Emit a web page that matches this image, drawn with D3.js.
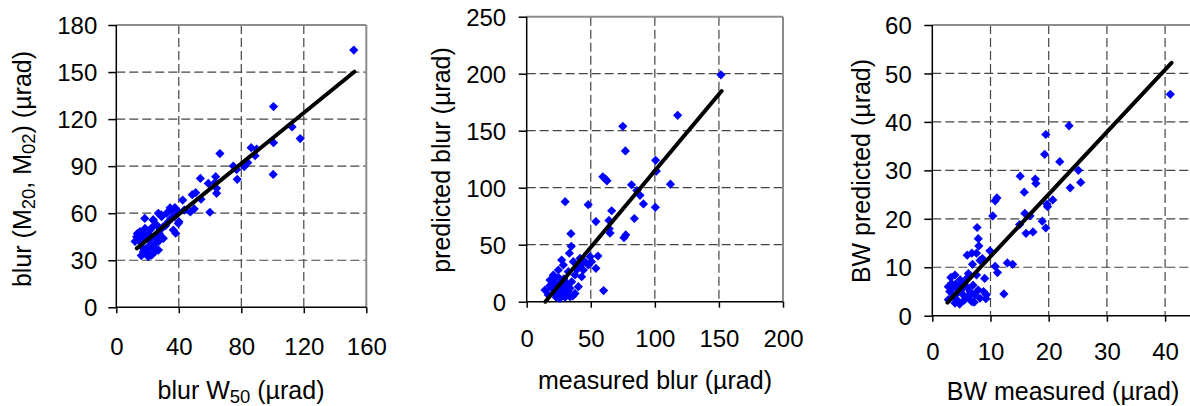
<!DOCTYPE html>
<html><head><meta charset="utf-8">
<script src="https://cdn.jsdelivr.net/npm/d3@7"></script>
<style>
html,body{margin:0;padding:0;background:#fff;}
svg{display:block;font-family:"Liberation Sans",Arial,sans-serif;}
</style></head>
<body>
<svg id="c" width="1190" height="406"></svg>
<script>
// ---------- Panel 1: blur W50 vs blur (M20, M02) ----------
const p1X = [152,100.6,100.6,100.4,112.5,117.7,86.3,89.8,88.8,84.1,81.9,74.9,77,77.4,66.3,53.8,
  63.6,63.2,64.2,64.2,58.9,59.9,54.2,50.8,48.6,47.4,49.9,42.5,39.7,40.1,38,35.4,35,32.2,28.8,23.5,18.2,
  43.5,37.5,39.7,37.1,34.4,33.3,29,26.9,25.8,23.7,28,30.1,21.6,18.4,15.2,13,12,15.2,16.2,17.3,20.5,22.6,
  24.7,26.9,19.4,21.6,24.7,26.9,30.1,18.4,22.6,36.5,25.8,26.7,14.1,31.5,20,16.5,23,27.5,
  14,17,19.5,21,24,13.5,16,20.5];
const p1Y = [164,128,105,84.7,115,107.6,101.8,100.9,96.7,92.2,89.7,90.1,87.8,81.6,98,82.2,
  83.3,79.5,75.9,72.7,79,60.6,68.9,73.1,71.8,60.8,62.7,68.4,61,54.6,47.2,62,56.7,60,58.9,55.7,56.7,
  62,63.5,53.5,57.8,63.4,54.6,57.8,59.9,52.5,55.7,49.3,51.4,49.3,50.3,48.2,45,42,41.8,38.6,35.4,32.3,33.3,
  35.4,36.5,37.6,39.7,40.8,41.8,43.9,43.9,45,49.3,44,36.6,47.2,52,46,47,51,47,
  44,46,35,43,38,47,33,37];
const p1Fit = [[13.1,37.6],[152.4,150.2]];
const p1XTicks = [0,40,80,120,160];
const p1YTicks = [0,30,60,90,120,150,180];

// ---------- Panel 2: measured blur vs predicted blur ----------
const p2X = [151.6,117.8,75,77,100.6,101.2,112.2,59.4,61.6,62.6,81.8,86,88.4,91.1,100.4,84,66.3,64.2,64.4,65,
  75.9,77.3,48,30,54,34.5,34.8,55.6,49.5,54,60,33.3,27.3,41.6,36.4,45.5,50.6,48.1,44.2,40.3,37.7,42.9,32.5,
  28.6,24.7,20.8,18.2,22.1,27.3,31.2,33.8,40.3,37.7,31.2,27.3,24.7,19.5,14.3,16.9,28.6,33.8,26,35.1,26,30,22,
  29,18,21,36,39,43,23,32,25];
const p2Y = [199,163.5,153.8,132.3,124,114.6,103.1,109.6,107.5,106,102.6,97.5,93.3,85.8,82.8,73,79.8,71.3,64,60.2,
  56.2,58.6,85.1,87.7,70.3,59.7,48.6,40.1,39.5,29.3,9.8,42.5,36.6,38,35.1,35.1,35.1,32.2,27.8,30.7,23.4,21.9,26.3,
  32.2,27.8,23.4,19,16.1,19,16.1,11.7,13.2,7.3,7.3,5.9,10.2,11.7,10.2,5.9,11.7,4.4,3,17.5,14.6,4,8,
  20,14,20,5,28,33,4,9,21];
const p2Fit = [[14.5,0],[152.1,184.8]];
const p2XTicks = [0,50,100,150,200];
const p2YTicks = [0,50,100,150,200,250];

// ---------- Panel 3: BW measured vs BW predicted ----------
const p3X = [40.9,23.5,19.5,19.3,21.9,25.1,25.5,23.7,15.1,17.7,17.8,15.8,11.1,10.8,20.7,19.7,19.8,15.9,16.8,10.4,
  18.9,15,19.5,17.3,16.1,9.9,7.7,7.9,8,6.8,7.6,6,8.2,6.9,10.8,11.2,12.9,13.8,12.3,3.2,9.0,2.75,3,3.6,2.75,3.9,
  4.5,5,4.8,5.6,5.9,6.5,6.2,7,7.9,8.8,9.3,8.2,7.3,6.8,5.3,4.2,7.6,6.2,3.9,3.3,9.2,8.6,5.2,4.4,6.6,
  4,5.5,3.5,6,4.7,7.2];
const p3Y = [45.7,39.2,37.4,33.3,31.8,30,27.5,26.4,28.8,28.2,27.3,25.5,24.3,23.7,23.9,23,22.5,21.1,20.6,20.6,
  19.5,18.8,18.1,17.3,17,13.4,18.2,15.9,14.4,12.9,12.9,12.5,11.4,10.6,10.2,8.9,10.9,10.6,4.5,7.9,7.7,6,5,4,3.3,2.6,
  5.3,6.3,7.4,7,6,5,3.9,6.3,5.3,5,4.3,3.6,4.3,2.9,4.3,3.3,8.4,8.7,8.4,6.7,3.5,11.8,5.6,4.8,4.6,
  6.5,3.2,5.8,7.8,2.4,2.8];
const p3Fit = [[2.6,2.7],[41.1,52.2]];
const p3XTicks = [0,10,20,30,40];
const p3YTicks = [0,10,20,30,40,50,60];

const svg = d3.select("#c");
const FONT_T = 24, FONT_L = 25;

const panels = [
  {xs:p1X, ys:p1Y, fit:p1Fit, xt:p1XTicks, yt:p1YTicks, xd:[0,160], yd:[0,180],
   L:116.3, R:366.3, B:307.3, T:25, xLabBase:355, yPad:11,
   xTitle:[{t:"blur W"},{t:"50",sub:true},{t:" (µrad)"}], xTitleX:241, xTitleY:399,
   yTitle:[{t:"blur (M"},{t:"20",sub:true},{t:",  M"},{t:"02",sub:true},{t:") (µrad)"}], yTitleX:31, yTitleY:169},
  {xs:p2X, ys:p2Y, fit:p2Fit, xt:p2XTicks, yt:p2YTicks, xd:[0,200], yd:[0,250],
   L:526.7, R:783, B:301.7, T:16.7, xLabBase:347, yPad:12.5,
   xTitle:[{t:"measured blur (µrad)"}], xTitleX:655, xTitleY:389,
   yTitle:[{t:"predicted blur (µrad)"}], yTitleX:450, yTitleY:160},
  {xs:p3X, ys:p3Y, fit:p3Fit, xt:p3XTicks, yt:p3YTicks, xd:[0,45], yd:[0,60],
   L:932.3, R:1194.2, B:315.7, T:25, xLabBase:360, yPad:12.5,
   xTitle:[{t:"BW measured (µrad)"}], xTitleX:1063, xTitleY:400,
   yTitle:[{t:"BW predicted (µrad)"}], yTitleX:869.5, yTitleY:171}
];

function addRich(textSel, parts){
  parts.forEach(p=>{
    const ts = textSel.append("tspan").text(p.t);
    if(p.sub){ ts.attr("font-size", FONT_L*0.74).attr("baseline-shift","-22%"); }
  });
}

panels.forEach(P=>{
  const x = d3.scaleLinear().domain(P.xd).range([P.L,P.R]);
  const y = d3.scaleLinear().domain(P.yd).range([P.B,P.T]);
  const g = svg.append("g");

  // gridlines
  g.selectAll(".hg").data(P.yt.filter(v=>v>P.yd[0] && v<P.yd[1])).join("line")
    .attr("x1",P.L).attr("x2",P.R).attr("y1",d=>y(d)).attr("y2",d=>y(d))
    .attr("stroke","#444").attr("stroke-width",1.2).attr("stroke-dasharray","9,4");
  g.selectAll(".vg").data(P.xt.filter(v=>v>P.xd[0] && v<P.xd[1])).join("line")
    .attr("y1",P.T).attr("y2",P.B).attr("x1",d=>x(d)).attr("x2",d=>x(d))
    .attr("stroke","#444").attr("stroke-width",1.2).attr("stroke-dasharray","9,4");

  // frame (top/right gray)
  g.append("line").attr("x1",P.L).attr("x2",P.R).attr("y1",P.T).attr("y2",P.T)
    .attr("stroke","#8c8c8c").attr("stroke-width",2);
  g.append("line").attr("x1",P.R).attr("x2",P.R).attr("y1",P.T).attr("y2",P.B)
    .attr("stroke","#8c8c8c").attr("stroke-width",2);

  // axes
  const ax = d3.axisBottom(x).tickValues(P.xt).tickSize(6).tickSizeOuter(0).tickFormat(d3.format("d"));
  const xg = g.append("g").attr("transform",`translate(0,${P.B})`).call(ax);
  xg.select(".domain").remove();
  xg.selectAll("line").attr("stroke","#000").attr("stroke-width",1.5);
  xg.selectAll("text").attr("font-size",FONT_T).attr("font-family","Liberation Sans, Arial, sans-serif")
    .attr("fill","#000").attr("y",P.xLabBase-P.B).attr("dy",0);

  const ay = d3.axisLeft(y).tickValues(P.yt).tickSize(8).tickPadding(P.yPad).tickSizeOuter(0).tickFormat(d3.format("d"));
  const yg = g.append("g").attr("transform",`translate(${P.L},0)`).call(ay);
  yg.select(".domain").remove();
  yg.selectAll("line").attr("stroke","#000").attr("stroke-width",1.5);
  yg.selectAll("text").attr("font-size",FONT_T).attr("font-family","Liberation Sans, Arial, sans-serif")
    .attr("fill","#000").attr("dy","0.36em");

  g.append("line").attr("x1",P.L).attr("x2",P.L).attr("y1",P.T).attr("y2",P.B)
    .attr("stroke","#000").attr("stroke-width",1.5);
  g.append("line").attr("x1",P.L).attr("x2",P.R).attr("y1",P.B).attr("y2",P.B)
    .attr("stroke","#000").attr("stroke-width",1.5);

  // points
  const pts = P.xs.map((v,i)=>[v,P.ys[i]]);
  const r = 4.6;
  g.selectAll(".pt").data(pts).join("path")
    .attr("d",`M0,${-r}L${r},0L0,${r}L${-r},0Z`)
    .attr("transform",d=>`translate(${x(d[0])},${y(d[1])})`)
    .attr("fill","#0000ff");

  // fit line
  g.append("line").attr("x1",x(P.fit[0][0])).attr("y1",y(P.fit[0][1]))
    .attr("x2",x(P.fit[1][0])).attr("y2",y(P.fit[1][1]))
    .attr("stroke","#000").attr("stroke-width",4).attr("stroke-linecap","round");

  // titles
  const xt = svg.append("text").attr("x",P.xTitleX).attr("y",P.xTitleY)
    .attr("text-anchor","middle").attr("font-size",FONT_L).attr("fill","#000");
  addRich(xt,P.xTitle);
  const yt = svg.append("text").attr("transform",`translate(${P.yTitleX},${P.yTitleY}) rotate(-90)`)
    .attr("text-anchor","middle").attr("font-size",FONT_L).attr("fill","#000");
  addRich(yt,P.yTitle);
});
</script>
</body></html>
